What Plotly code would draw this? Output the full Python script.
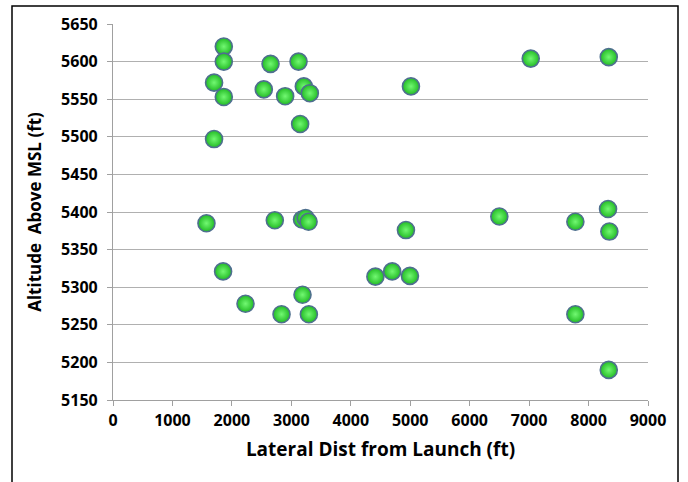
import plotly.graph_objects as go

lateral_ft = [1864, 1864, 1700, 1864, 1700, 2650, 3121, 2537, 2896, 3210, 3311, 3148,
              1572, 2722, 3180, 3240, 3290, 1852, 2229, 3188, 2835, 3295,
              7027, 8340, 5012, 6499, 7778, 8328, 8350, 4928, 4414, 4697, 4995,
              7778, 8340]
altitude_ft = [5620, 5600, 5572, 5553, 5497, 5597, 5600, 5563, 5554, 5567, 5558, 5517,
               5385, 5389, 5390, 5392, 5387, 5321, 5278, 5290, 5264, 5264,
               5604, 5606, 5567, 5394, 5387, 5404, 5374, 5376, 5314, 5321, 5315,
               5264, 5190]

x_ticks = [0, 1000, 2000, 3000, 4000, 5000, 6000, 7000, 8000, 9000]
y_ticks = [5150, 5200, 5250, 5300, 5350, 5400, 5450, 5500, 5550, 5600, 5650]

fig = go.Figure()
fig.add_trace(go.Scatter(
    x=lateral_ft, y=altitude_ft, mode="markers",
    marker=dict(size=17, color="#22bb24",
                gradient=dict(type="radial", color="#72f872"),
                line=dict(color="#4f6f8f", width=1.6)),
    showlegend=False, hoverinfo="x+y"))

font_fam = "Open Sans, Liberation Sans, sans-serif"
fig.update_layout(
    width=688, height=482,
    margin=dict(l=113, r=40, t=24, b=82),
    paper_bgcolor="white", plot_bgcolor="white",
    font=dict(family=font_fam, color="black"),
    xaxis=dict(range=[0, 9000], tickvals=x_ticks, ticktext=[str(v) for v in x_ticks],
               automargin=False,
               showgrid=False, zeroline=False, showline=True, linecolor="#a0a0a0",
               linewidth=1.2, ticks="outside", ticklen=5, tickcolor="#a0a0a0",
               ticklabelstandoff=1,
               tickfont=dict(size=16, family=font_fam, weight="bold"),
               title=dict(text="Lateral Dist from Launch (ft)", standoff=12,
                          font=dict(size=19, family=font_fam, weight="bold"))),
    yaxis=dict(range=[5150, 5650], tickvals=y_ticks, ticktext=[str(v) for v in y_ticks],
               automargin=False,
               showgrid=True, gridcolor="#b0b0b0", gridwidth=1.2, zeroline=False,
               showline=True, linecolor="#a0a0a0", linewidth=1.2,
               ticks="outside", ticklen=5, tickcolor="#a0a0a0",
               ticklabelstandoff=6,
               tickfont=dict(size=16, family=font_fam, weight="bold"),
               title=dict(text="Altitude\u00a0\u00a0Above MSL (ft)",
                          font=dict(size=17, family=font_fam, weight="bold"))),
    shapes=[dict(type="rect", xref="paper", yref="paper",
                 x0=(12 - 113) / 535, x1=(678 - 113) / 535,
                 y0=(400 - 500) / 376, y1=(400 - 6) / 376,
                 line=dict(color="black", width=1.5), fillcolor="rgba(0,0,0,0)",
                 layer="below")],
)
fig.write_html("out.html", config={"displayModeBar": False},
               post_script="document.body.style.margin='0';document.body.style.padding='0';")
